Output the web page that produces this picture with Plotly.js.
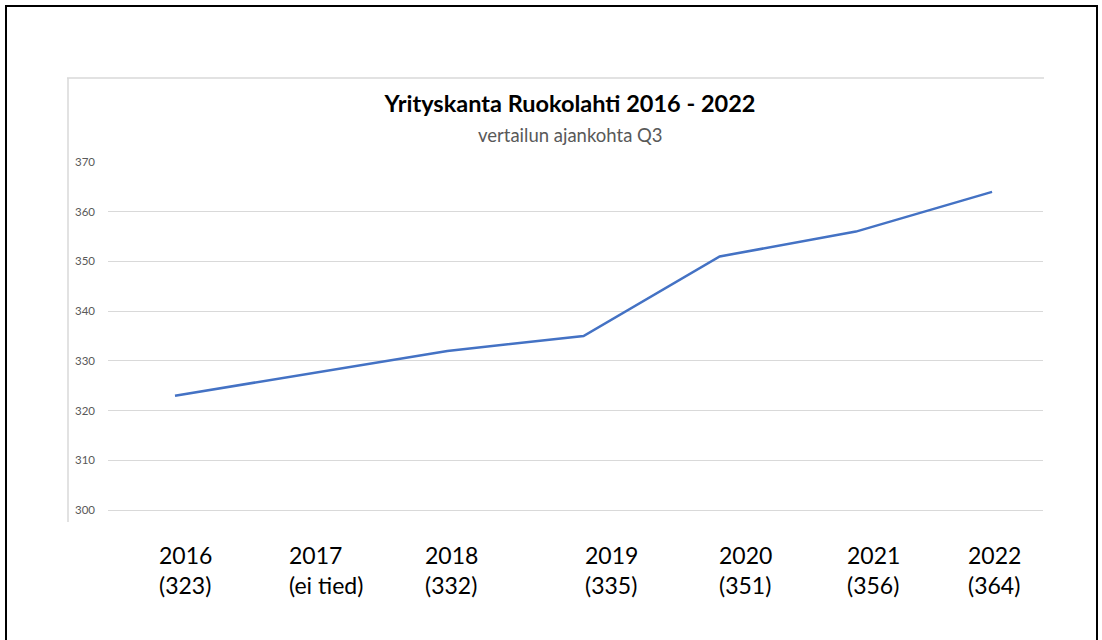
<!DOCTYPE html>
<html>
<head>
<meta charset="utf-8">
<script src="https://cdn.plot.ly/plotly-3.0.1.min.js"></script>
<style>html,body{margin:0;padding:0;background:#fff;}#chart{width:1102px;height:640px;}</style>
</head>
<body>
<div id="chart"></div>
<script>
// Data
const years = ['2016', '2017', '2018', '2019', '2020', '2021', '2022'];
const companies = [323, null, 332, 335, 351, 356, 364]; // 2017: ei tiedossa (line connects)
const labelCounts = ['(323)', '(ei tied)', '(332)', '(335)', '(351)', '(356)', '(364)'];
const yTicks = [300, 310, 320, 330, 340, 350, 360, 370];

// Layout tweaks (label offsets in px, as placed in the original image)
const labelShift = [-18, -24, -24, -1, -3, -11, -26];

const W = 1102, H = 640;
const px = v => v / W, py = v => 1 - v / H;
const FONT = 'Lato, "Open Sans", sans-serif';

const trace = {
  type: 'scatter', mode: 'lines',
  x: years, y: companies, connectgaps: true,
  line: {color: '#4472c4', width: 2.5},
  hoverinfo: 'x+y', showlegend: false
};

const annotations = years.map((yr, i) => ({
  xref: 'x', yref: 'paper', x: i, y: py(570),
  xanchor: 'left', yanchor: 'middle', align: 'left',
  xshift: labelShift[i],
  text: yr + '<br>' + labelCounts[i],
  showarrow: false,
  font: {family: FONT, size: 23, color: '#000'}
}));
annotations.push({
  xref: 'paper', yref: 'paper', x: px(570), y: py(135),
  xanchor: 'center', yanchor: 'middle', showarrow: false,
  text: 'vertailun ajankohta Q3',
  font: {family: FONT, size: 18.5, color: '#595959'}
});

const layout = {
  width: W, height: H,
  margin: {l: 0, r: 0, t: 0, b: 0},
  paper_bgcolor: '#fff', plot_bgcolor: '#fff',
  title: {
    text: '<b>Yrityskanta Ruokolahti 2016 - 2022</b>',
    font: {family: FONT, size: 23.5, color: '#000'},
    x: px(570), xanchor: 'center', y: py(104), yanchor: 'middle', xref: 'paper', yref: 'paper'
  },
  xaxis: {
    type: 'category', domain: [px(108), px(1043)],
    range: [-0.492, 6.374],
    showticklabels: false, showgrid: false, zeroline: false, showline: false, ticks: ''
  },
  yaxis: {
    domain: [py(512.5), py(161.75)],
    range: [299.5, 370.05],
    tickvals: yTicks, ticktext: yTicks.map(String),
    showgrid: true, gridcolor: '#d9d9d9', gridwidth: 1,
    zeroline: false, showline: false, ticks: '',
    ticklabelstandoff: 12,
    tickfont: {family: FONT, size: 11.5, color: '#595959'}
  },
  annotations: annotations,
  shapes: [
    // outer black frame of the screenshot
    {type: 'rect', xref: 'paper', yref: 'paper', x0: px(6), x1: px(1097), y0: -0.2, y1: py(6),
     line: {color: '#000', width: 2}, fillcolor: 'rgba(0,0,0,0)', layer: 'above'},
    // chart area border (top & left)
    {type: 'line', xref: 'paper', yref: 'paper', x0: px(67), x1: px(1044), y0: py(78), y1: py(78),
     line: {color: '#d9d9d9', width: 1.5}},
    {type: 'line', xref: 'paper', yref: 'paper', x0: px(68), x1: px(68), y0: py(78), y1: py(522),
     line: {color: '#d9d9d9', width: 1.5}}
  ]
};

Plotly.newPlot('chart', [trace], layout, {displayModeBar: false, staticPlot: true});
</script>
</body>
</html>
